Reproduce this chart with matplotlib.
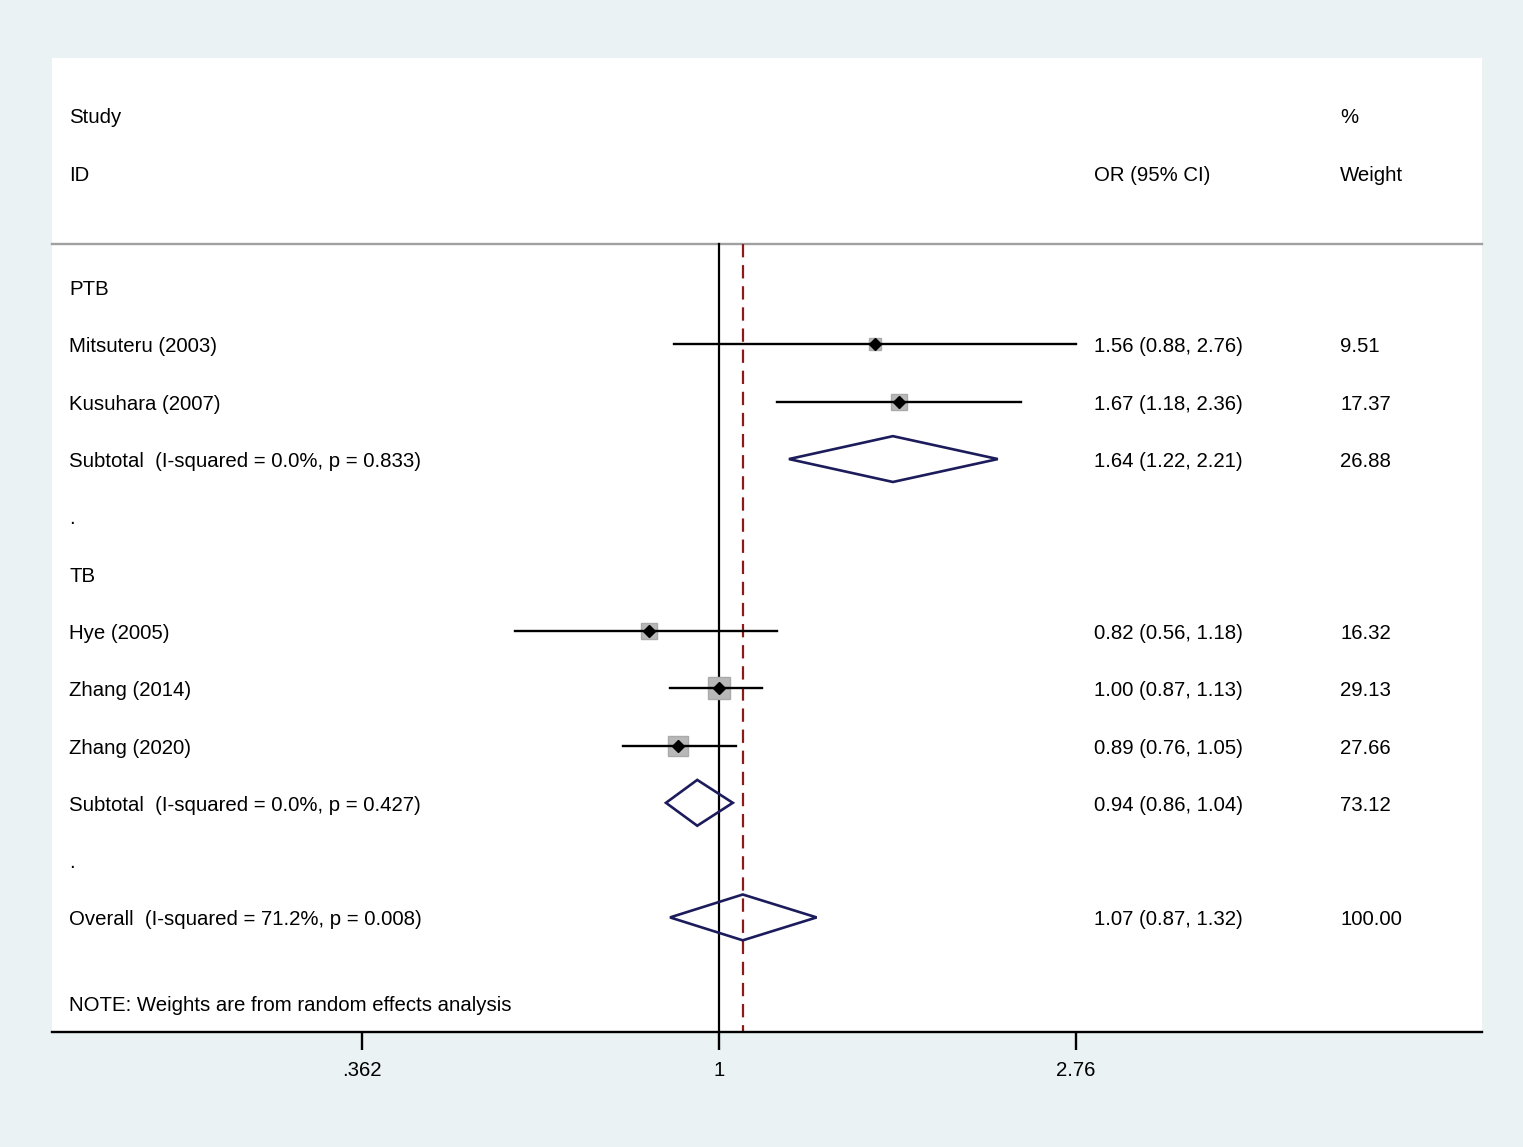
import matplotlib
matplotlib.use("Agg")
import matplotlib.pyplot as plt
import matplotlib.transforms as mtransforms
import numpy as np
from matplotlib.patches import Polygon

plt.rcParams['font.family'] = ['Liberation Sans', 'DejaVu Sans']

# study rows (row index counted from the top of the panel)
study_names = ["Mitsuteru (2003)", "Kusuhara (2007)", "Hye (2005)", "Zhang (2014)", "Zhang (2020)"]
study_rows = [5, 6, 10, 11, 12]
study_or = [1.56, 1.67, 0.82, 1.00, 0.89]
study_lo = [0.88, 1.18, 0.56, 0.87, 0.76]
study_hi = [2.76, 2.36, 1.18, 1.13, 1.05]
study_w = [9.51, 17.37, 16.32, 29.13, 27.66]

# pooled estimates
pooled_names = ["Subtotal  (I-squared = 0.0%, p = 0.833)",
                "Subtotal  (I-squared = 0.0%, p = 0.427)",
                "Overall  (I-squared = 71.2%, p = 0.008)"]
pooled_rows = [7, 13, 15]
pooled_or = [1.64, 0.94, 1.07]
pooled_lo = [1.22, 0.86, 0.87]
pooled_hi = [2.21, 1.04, 1.32]
pooled_w = [26.88, 73.12, 100.00]

group_labels = ["PTB", ".", "TB", "."]
group_rows = [4, 8, 9, 14]

tick_vals = [0.362, 1, 2.76]
tick_labels = [".362", "1", "2.76"]

fig = plt.figure(figsize=(15.23, 11.47), dpi=100)
fig.patch.set_facecolor("#eaf2f3")

W, H = 1523, 1147
ax = fig.add_axes([52 / W, (H - 1032) / H, (1482 - 52) / W, (1032 - 58) / H])
ax.set_facecolor("white")

ax.set_xscale("log")
ax.set_xlim(0.150, 8.76)
ax.set_ylim(17.0, 0)

for s in ["top", "left", "right"]:
    ax.spines[s].set_visible(False)
ax.spines["bottom"].set_linewidth(1.7)
ax.set_yticks([])
ax.set_xticks(tick_vals)
ax.set_xticklabels(tick_labels, fontsize=14.7)
ax.xaxis.set_minor_locator(matplotlib.ticker.NullLocator())
ax.tick_params(axis="x", direction="out", length=13, width=1.7, pad=8)

fs = 14.7
dy = 0.14  # baseline offset below row centre
trans = mtransforms.blended_transform_factory(ax.transAxes, ax.transData)
x_lab, x_or, x_w = 0.0119, 0.7286, 0.9007


def put(x, r, s):
    ax.text(x, r + dy, s, transform=trans, fontsize=fs, va="baseline")


# header
put(x_lab, 1, "Study")
put(x_lab, 2, "ID")
put(x_or, 2, "OR (95% CI)")
put(x_w, 1, "%")
put(x_w, 2, "Weight")
ax.plot([0, 1], [3.25, 3.25], transform=trans, color="#a0a0a0", lw=1.7, clip_on=False)

# reference lines
ax.plot([1, 1], [3.25, 17.0], color="black", lw=1.6)
ax.plot([pooled_or[-1]] * 2, [3.25, 17.0], color="#8b1a1a", lw=1.6, dashes=(6, 3.5))

for lab, r in zip(group_labels, group_rows):
    put(x_lab, r, lab)

# individual studies
for name, r, o, lo, hi, w in zip(study_names, study_rows, study_or, study_lo, study_hi, study_w):
    ax.plot(o, r, marker="s", ms=15.2 * np.sqrt(w / 29.13), color="#b8b8b8", mec="#aaaaaa", zorder=3)
    ax.plot([lo, hi], [r, r], color="black", lw=1.7, zorder=4)
    ax.plot(o, r, marker="D", ms=6.2, color="black", zorder=5)
    put(x_lab, r, name)
    put(x_or, r, f"{o:.2f} ({lo:.2f}, {hi:.2f})")
    put(x_w, r, f"{w:.2f}")

# pooled diamonds
for name, r, o, lo, hi, w in zip(pooled_names, pooled_rows, pooled_or, pooled_lo, pooled_hi, pooled_w):
    dia = Polygon([[lo, r], [o, r - 0.4], [hi, r], [o, r + 0.4]], closed=True,
                  fill=False, edgecolor="#1c1c5c", lw=1.9, zorder=4)
    ax.add_patch(dia)
    put(x_lab, r, name)
    put(x_or, r, f"{o:.2f} ({lo:.2f}, {hi:.2f})")
    put(x_w, r, f"{w:.2f}")

put(x_lab, 16.5, "NOTE: Weights are from random effects analysis")

fig.savefig("out.png", dpi=100, facecolor=fig.get_facecolor())
